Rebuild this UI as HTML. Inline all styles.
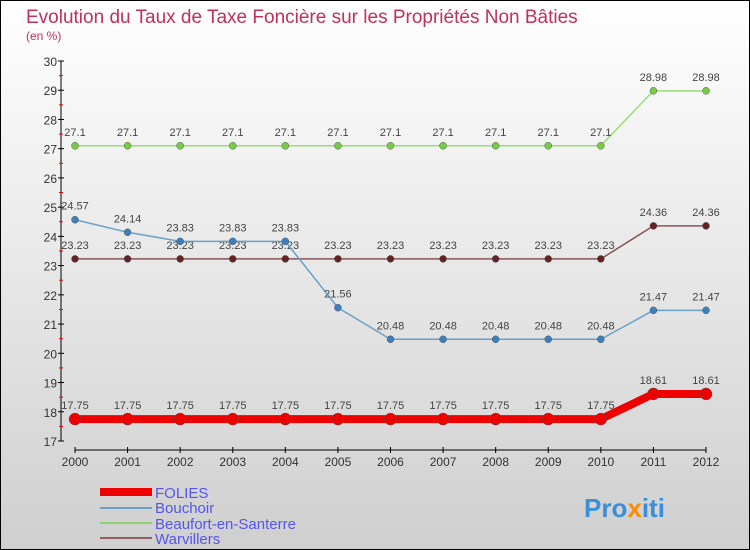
<!DOCTYPE html>
<html><head><meta charset="utf-8"><style>
body{margin:0}
svg{display:block;font-family:"Liberation Sans",sans-serif}
</style></head><body>
<svg width="750" height="550" id="c">
<defs><linearGradient id="bg" x1="0" y1="0" x2="0" y2="1"><stop offset="0" stop-color="#ffffff"/><stop offset="1" stop-color="#cfcfcf"/></linearGradient></defs>
<rect x="0.5" y="0.5" width="749" height="549" fill="url(#bg)" stroke="#000"/>
<text x="26" y="23" font-size="19" fill="#c0305a">Evolution du Taux de Taxe Foncière sur les Propriétés Non Bâties</text>
<text x="26" y="40" font-size="12" fill="#c0305a">(en %)</text>
<g id="axes"></g><g id="series"></g>
<g>
<rect x="100" y="488" width="52" height="8" fill="#ee0000"/>
<text x="155" y="498" font-size="15" fill="#5555ee">FOLIES</text>
<line x1="100" y1="508" x2="152" y2="508" stroke="#6aa0c8" stroke-width="2"/>
<text x="155" y="513" font-size="15" fill="#5555ee">Bouchoir</text>
<line x1="100" y1="523" x2="152" y2="523" stroke="#8fd070" stroke-width="2"/>
<text x="155" y="529" font-size="15" fill="#5555ee">Beaufort-en-Santerre</text>
<line x1="100" y1="538" x2="152" y2="538" stroke="#906060" stroke-width="2"/>
<text x="155" y="544" font-size="15" fill="#5555ee">Warvillers</text>
</g>
<text x="584" y="517" font-size="26" font-weight="bold" fill="#3a8fd8">Pro<tspan fill="#ff8a00">x</tspan>iti</text>
</svg>
<script>
const years=["2000","2001","2002","2003","2004","2005","2006","2007","2008","2009","2010","2011","2012"];
const yTicks=[17,18,19,20,21,22,23,24,25,26,27,28,29,30];
const folies=[17.75,17.75,17.75,17.75,17.75,17.75,17.75,17.75,17.75,17.75,17.75,18.61,18.61];
const bouchoir=[24.57,24.14,23.83,23.83,23.83,21.56,20.48,20.48,20.48,20.48,20.48,21.47,21.47];
const beaufort=[27.1,27.1,27.1,27.1,27.1,27.1,27.1,27.1,27.1,27.1,27.1,28.98,28.98];
const warvillers=[23.23,23.23,23.23,23.23,23.23,23.23,23.23,23.23,23.23,23.23,23.23,24.36,24.36];
const NS="http://www.w3.org/2000/svg";
const X=i=>75+i*(706-75)/12;
const Y=v=>441-(v-17)*(441-61)/13;
function mk(t,a,p){const e=document.createElementNS(NS,t);for(const k in a)e.setAttribute(k,a[k]);p.appendChild(e);return e;}
const ax=document.getElementById('axes');
const ya=mk('line',{x1:61,y1:61,x2:61,y2:441,stroke:'#000'},ax);


yTicks.forEach((v,i)=>{
 mk('line',{x1:58,y1:Y(v),x2:64,y2:Y(v),stroke:'#000'},ax);
 if(i<yTicks.length-1)mk('line',{x1:59,y1:Y(v+0.5),x2:63,y2:Y(v+0.5),stroke:'#e00'},ax);
 const t=mk('text',{x:57,y:Y(v)+5,'text-anchor':'end','font-size':12,fill:'#333'},ax);t.textContent=v;
 
 
});
const xa=mk('line',{x1:75,y1:450,x2:706,y2:450,stroke:'#000'},ax);


years.forEach((y,i)=>{
 mk('line',{x1:X(i),y1:447,x2:X(i),y2:453,stroke:'#000'},ax);
 const t=mk('text',{x:X(i),y:466,'text-anchor':'middle','font-size':12,fill:'#333'},ax);t.textContent=y;
 
 
});
const sg=document.getElementById('series');
function series(d,name,col,w,r,dot){
 const g=mk('g',{},sg);
 
 
 mk('polyline',{points:d.map((v,i)=>X(i)+','+Y(v)).join(' '),fill:'none',stroke:col,'stroke-width':w,'stroke-linejoin':'round'},g);
 d.forEach((v,i)=>{
  const c=mk('circle',{cx:X(i),cy:Y(v),r:r,fill:dot,stroke:'#555','stroke-width':0.5},g);
  
  
  const t=mk('text',{x:X(i),y:Y(v)-10,'text-anchor':'middle','font-size':11,fill:'#444'},g);t.textContent=String(v);
  
  
 });
}
series(beaufort,'beaufort','#99dd77',1.5,3.5,'#77cc44');
series(warvillers,'warvillers','#885555',1.5,3.5,'#662222');
series(bouchoir,'bouchoir','#6aa0c8',1.5,3.5,'#3a80c0');
series(folies,'folies','#ee0000',8,6,'#ee0000');
</script>
</body></html>
